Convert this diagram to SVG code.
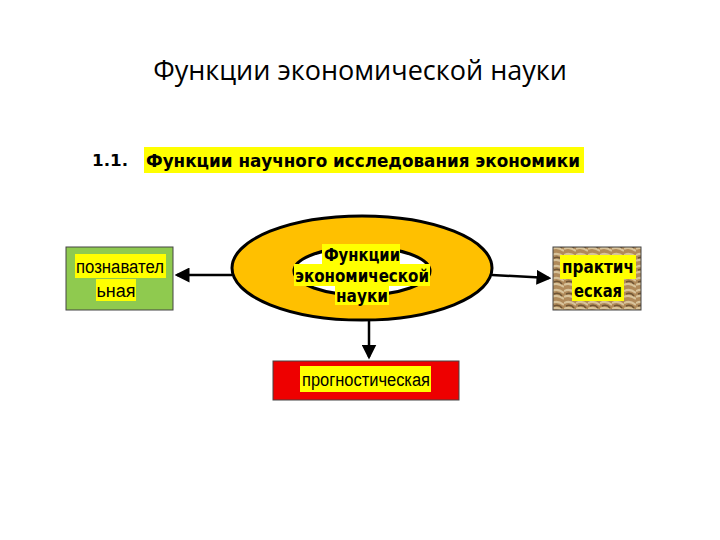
<svg xmlns="http://www.w3.org/2000/svg" width="720" height="540" viewBox="0 0 720 540">
<defs>
<style>
.t{font-family:"Liberation Sans",Arial,sans-serif;fill:#000}
.b{font-weight:bold;font-family:"DejaVu Sans",Verdana,sans-serif}
.hl{fill:#ffff00}
.box{stroke:#444;stroke-width:1}
.con{stroke:#000;stroke-width:2.5;fill:none;marker-end:url(#ah)}
</style>
<marker id="ah" markerWidth="6" markerHeight="6" refX="5" refY="3" orient="auto" markerUnits="strokeWidth"><path d="M0,0 L6,3 L0,6 Z" fill="#000"/></marker>
<pattern id="tex" width="12" height="12" patternUnits="userSpaceOnUse">
<rect width="12" height="12" fill="#b08a5a"/>
<path d="M0,3 Q6,0 12,5 M0,9 Q5,6 12,11" stroke="#d8c39a" stroke-width="2" fill="none"/>
<path d="M2,6 Q7,4 10,8" stroke="#6e5434" stroke-width="1.5" fill="none"/>
</pattern>
</defs>
<rect width="720" height="540" fill="#fff"/>
<text class="t" x="360" y="80" font-size="27" text-anchor="middle" style="font-family:'Open Sans',sans-serif" fill="#111">Функции экономической науки</text>
<text class="t b" x="92" y="166" font-size="16" textLength="36" lengthAdjust="spacingAndGlyphs">1.1.</text>
<rect class="hl" x="144" y="147" width="440" height="26"/>
<text class="t b" x="146" y="167" font-size="17" textLength="434" lengthAdjust="spacingAndGlyphs">Функции научного исследования экономики</text>
<g id="connectors">
<line class="con" x1="232" y1="275" x2="177" y2="275"/>
<line class="con" x1="492" y1="275" x2="549" y2="278"/>
<line class="con" x1="369" y1="320" x2="369" y2="357"/>
</g>
<g id="center">
<ellipse cx="362" cy="268" rx="130" ry="52" fill="#ffc000" stroke="#000" stroke-width="3"/>
<ellipse cx="362" cy="271" rx="68" ry="24" fill="#fff" stroke="#000" stroke-width="3"/>
<rect class="hl" x="322" y="244" width="78" height="22"/>
<rect class="hl" x="294" y="264" width="136" height="22"/>
<rect class="hl" x="335" y="285" width="54" height="20"/>
<text class="t b" x="362" y="261" font-size="18" text-anchor="middle" textLength="76" lengthAdjust="spacingAndGlyphs">Функции</text>
<text class="t b" x="362" y="282" font-size="18" text-anchor="middle" textLength="134" lengthAdjust="spacingAndGlyphs">экономической</text>
<text class="t b" x="362" y="302" font-size="18" text-anchor="middle" textLength="52" lengthAdjust="spacingAndGlyphs">науки</text>
</g>
<g id="left">
<rect class="box" x="66" y="247" width="107" height="63" fill="#8fca4f"/>
<rect class="hl" x="75" y="254" width="91" height="24"/>
<rect class="hl" x="96" y="279" width="40" height="22"/>
<text class="t" x="120" y="273" font-size="18" text-anchor="middle" textLength="88" lengthAdjust="spacingAndGlyphs">познавател</text>
<text class="t" x="116" y="297" font-size="18" text-anchor="middle">ьная</text>
</g>
<g id="right">
<rect class="box" x="553" y="247" width="88" height="63" fill="url(#tex)"/>
<rect class="hl" x="560" y="255" width="76" height="24"/>
<rect class="hl" x="572" y="279" width="52" height="22"/>
<text class="t b" x="598" y="273" font-size="17" text-anchor="middle" textLength="72" lengthAdjust="spacingAndGlyphs">практич</text>
<text class="t b" x="598" y="297" font-size="17" text-anchor="middle" textLength="48" lengthAdjust="spacingAndGlyphs">еская</text>
</g>
<g id="bottom">
<rect class="box" x="273" y="361" width="186" height="39" fill="#ee0000"/>
<rect class="hl" x="300" y="366" width="131" height="26"/>
<text class="t" x="366" y="386" font-size="18" text-anchor="middle" textLength="128" lengthAdjust="spacingAndGlyphs">прогностическая</text>
</g>
</svg>
